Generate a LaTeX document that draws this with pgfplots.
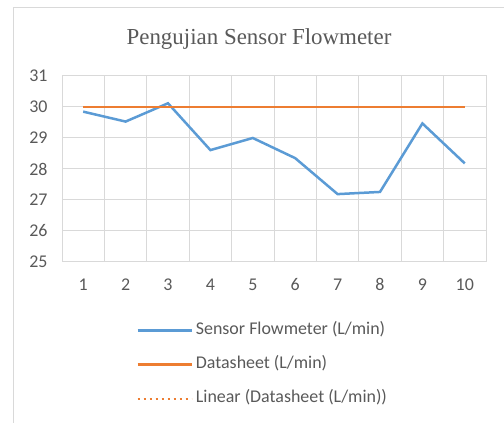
\documentclass[border=0pt]{standalone}
\usepackage{pgfplots}
\pgfplotsset{compat=1.18}
\usepackage{fontspec}
\setmainfont{Carlito}
\newfontfamily\titlefont{Liberation Serif}
\definecolor{sblue}{HTML}{5B9BD5}
\definecolor{sorange}{HTML}{ED7D31}
\definecolor{gridc}{HTML}{D9D9D9}
\definecolor{txt}{HTML}{595959}
\begin{document}
\begin{tikzpicture}
\useasboundingbox (0bp,0bp) rectangle (504bp,423bp);
\draw[gridc, line width=1bp] (13bp,0bp) -- (13bp,415bp) -- (504bp,415bp);
\node[txt, font=\titlefont\fontsize{23}{27}\selectfont] at (259bp,384bp) {Pengujian Sensor Flowmeter};
\begin{axis}[
  at={(62bp,161bp)}, anchor=south west,
  scale only axis, width=424bp, height=186bp,
  xmin=0.5, xmax=10.5, ymin=25, ymax=31,
  xtick={1,...,10}, ytick={25,...,31},
  minor xtick={0.5,1.5,...,10.5},
  xminorgrids=true, ymajorgrids=true, xmajorgrids=false,
  grid style={gridc, line width=1bp},
  minor grid style={gridc, line width=1bp},
  major tick length=0pt, minor tick length=0pt,
  axis line style={gridc, line width=1bp},
  tick label style={txt, font=\fontsize{18}{21}\selectfont},
  /pgf/number format/assume math mode=true,
  yticklabel style={xshift=-11bp},
  xticklabel style={yshift=-13bp},
  legend style={at={(0.175,-0.325)}, anchor=north west, draw=none, fill=none,
    font=\fontsize{18}{21}\selectfont, text=txt, row sep=18bp, inner sep=0pt,
    nodes={inner xsep=3bp, inner ysep=0pt, text height=12bp, text depth=4bp}},
  legend cell align=left,
  legend image code/.code={\draw[#1] (0bp,0bp) -- (54bp,0bp);},
]
\addplot[sblue, line width=2.5bp] coordinates {
(1,29.85) (2,29.53) (3,30.12) (4,28.61) (5,29.0) (6,28.35) (7,27.19) (8,27.26) (9,29.47) (10,28.18)};
\addlegendentry{Sensor Flowmeter (L/min)}
\addplot[sorange, line width=2.5bp] coordinates {
(1,30) (2,30) (3,30) (4,30) (5,30) (6,30) (7,30) (8,30) (9,30) (10,30)};
\addlegendentry{Datasheet (L/min)}
\addplot[sorange, line width=2bp, dash pattern={on 2bp off 4bp}] coordinates {
(1,30) (10,30)};
\addlegendentry{Linear (Datasheet (L/min))}
\end{axis}
\end{tikzpicture}
\end{document}
